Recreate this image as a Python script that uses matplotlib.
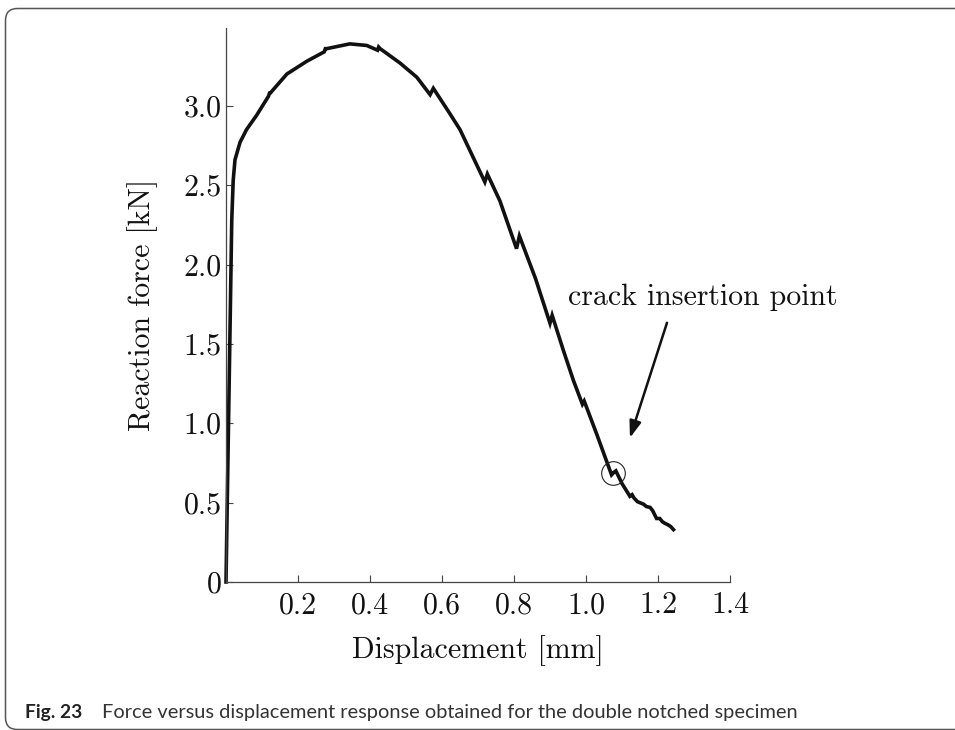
import matplotlib

matplotlib.use("Agg")
import matplotlib.pyplot as plt
from matplotlib.patches import FancyBboxPatch
from matplotlib.transforms import IdentityTransform

# force-displacement curve (mm, kN)
disp = [0.0, 0.016, 0.020, 0.025, 0.039, 0.057, 0.085, 0.118, 0.121, 0.123,
        0.169, 0.224, 0.273, 0.276, 0.280, 0.344, 0.391, 0.421, 0.424, 0.428,
        0.483, 0.530, 0.567, 0.576, 0.622, 0.650, 0.719, 0.726, 0.761, 0.807,
        0.815, 0.860, 0.900, 0.906, 0.937, 0.965, 0.990, 0.995, 1.030, 1.071,
        1.077, 1.083, 1.100, 1.122, 1.128, 1.133, 1.143, 1.160, 1.168, 1.178,
        1.185, 1.196, 1.205, 1.212, 1.219, 1.228, 1.235, 1.243]
force = [0.0, 2.28, 2.53, 2.66, 2.77, 2.85, 2.94, 3.06, 3.08, 3.08,
         3.20, 3.28, 3.34, 3.36, 3.36, 3.39, 3.38, 3.35, 3.37, 3.36,
         3.27, 3.18, 3.07, 3.11, 2.95, 2.85, 2.52, 2.57, 2.40, 2.10,
         2.18, 1.91, 1.63, 1.68, 1.46, 1.27, 1.12, 1.14, 0.93, 0.675,
         0.69, 0.70, 0.62, 0.54, 0.55, 0.53, 0.506, 0.49, 0.475, 0.47,
         0.45, 0.40, 0.40, 0.38, 0.37, 0.36, 0.35, 0.33]

xticks = [0.2, 0.4, 0.6, 0.8, 1.0, 1.2, 1.4]
xtick_labels = ["0.2", "0.4", "0.6", "0.8", "1.0", "1.2", "1.4"]
yticks = [0.0, 0.5, 1.0, 1.5, 2.0, 2.5, 3.0]
ytick_labels = ["0", "0.5", "1.0", "1.5", "2.0", "2.5", "3.0"]

crack_point = (1.074, 0.689)
note_text = "crack insertion point"
note_xy = (0.95, 1.746)
arrow_tail = (1.225, 1.633)
arrow_head = (1.122, 0.908)

caption_tag = "Fig. 23"
caption = "Force versus displacement response obtained for the double notched specimen"

plt.rcParams["font.family"] = "serif"
plt.rcParams["font.serif"] = ["cmr10"]
plt.rcParams["mathtext.fontset"] = "cm"
plt.rcParams["axes.formatter.use_mathtext"] = True

fig = plt.figure(figsize=(9.55, 7.3), dpi=100)
ax = fig.add_axes([226 / 955, 1 - 582 / 730, 504 / 955, 554 / 730])

ax.plot(disp, force, color="#111111", lw=2.6, solid_joinstyle="miter",
        clip_on=False)
ax.plot(*crack_point, "o", ms=17, mfc="none", mec="#222222", mew=0.8,
        clip_on=False)

ax.annotate("", xy=arrow_head, xytext=arrow_tail,
            arrowprops=dict(arrowstyle="-|>,head_length=1.0,head_width=0.35",
                            color="#111111", lw=1.8, shrinkA=0, shrinkB=0))
ax.text(*note_xy, note_text, fontsize=21.5, va="baseline", ha="left",
        color="#111111")

ax.set_xlim(0, 1.4)
ax.set_ylim(0, 3.49)
ax.set_xticks(xticks, labels=xtick_labels)
ax.set_yticks(yticks, labels=ytick_labels)
ax.tick_params(direction="in", length=5, width=0.8, colors="#444444",
               labelcolor="#111111", labelsize=21.5)
ax.tick_params(axis="x", pad=7)
ax.tick_params(axis="y", pad=3)
for side in ("top", "right"):
    ax.spines[side].set_visible(False)
for side in ("left", "bottom"):
    ax.spines[side].set_color("#444444")
    ax.spines[side].set_linewidth(0.9)
ax.patch.set_visible(False)

ax.set_xlabel("Displacement [mm]", fontsize=21.5, color="#111111")
ax.set_ylabel("Reaction force [kN]", fontsize=21.5, color="#111111")
ax.xaxis.set_label_coords(0.5, -0.095)
ax.yaxis.set_label_coords(-0.135, 0.5)

# caption and rounded frame of the journal figure box
cap_font = ["Lato", "DejaVu Sans"]
tag = fig.text(25 / 955, 1 - 718 / 730, caption_tag, fontsize=13,
               fontweight="bold", family=cap_font, va="baseline",
               color="#222222")
cap = fig.text(102 / 955, 1 - 718 / 730, caption, fontsize=13,
               family=cap_font, va="baseline", color="#333333")
# size both caption pieces to the widths they have in the reference
renderer = fig.canvas.get_renderer()
for txt, target in ((tag, 57), (cap, 693)):
    w = txt.get_window_extent(renderer).width
    txt.set_fontsize(13 * target / w)

frame = FancyBboxPatch((5.5, 0.5), 1000, 721,
                       boxstyle="round,pad=0,rounding_size=12",
                       transform=IdentityTransform(), fill=False,
                       ec="#555555", lw=1.1, clip_on=False)
fig.patches.append(frame)

fig.savefig("out.png", dpi=100)
